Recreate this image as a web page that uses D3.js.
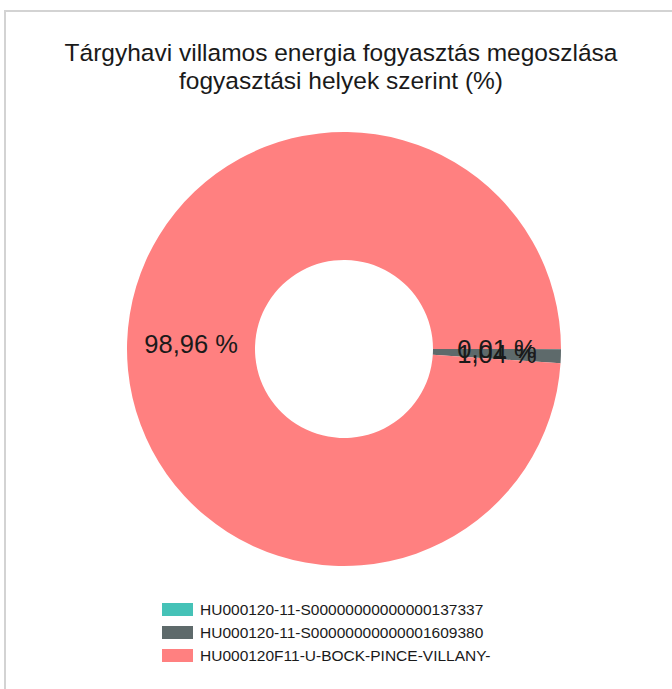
<!DOCTYPE html>
<html>
<head>
<meta charset="utf-8">
<script src="https://cdn.jsdelivr.net/npm/d3@7"></script>
<style>
  body { margin: 0; background: #fff; }
  svg { display: block; font-family: Arial, "Liberation Sans", sans-serif; }
</style>
</head>
<body>
<div id="chart"></div>
<script>
var titleLines = [
  'Tárgyhavi villamos energia fogyasztás megoszlása',
  'fogyasztási helyek szerint (%)'
];
var categories = [
  'HU000120-11-S00000000000000137337',
  'HU000120-11-S00000000000001609380',
  'HU000120F11-U-BOCK-PINCE-VILLANY-'
];
var values = [0.01, 1.04, 98.96];
var colors = ['#45c2b7', '#5e6a6b', '#ff8080'];

var width = 672, height = 689;
var cx = 344, cy = 349, outerR = 217, innerR = 89;

var svg = d3.select('#chart').append('svg')
  .attr('width', width)
  .attr('height', height);

// frame around the chart area
svg.append('rect')
  .attr('x', 5)
  .attr('y', 11)
  .attr('width', 700)
  .attr('height', 700)
  .attr('fill', 'none')
  .attr('stroke', '#d3d3d3')
  .attr('stroke-width', 2);

svg.selectAll('text.title')
  .data(titleLines)
  .enter()
  .append('text')
  .attr('class', 'title')
  .attr('x', 341)
  .attr('y', function(d, i) { return 61 + i * 28; })
  .attr('text-anchor', 'middle')
  .attr('font-size', 24.5)
  .attr('fill', '#1a1a1a')
  .text(function(d) { return d; });

var color = d3.scaleOrdinal()
  .domain(categories)
  .range(colors);

var pie = d3.pie()
  .sort(null)
  .startAngle(Math.PI / 2)
  .endAngle(Math.PI / 2 + 2 * Math.PI)
  .value(function(d) { return d.value; });

var data = categories.map(function(c, i) {
  return { category: c, value: values[i] };
});

var arc = d3.arc()
  .innerRadius(innerR)
  .outerRadius(outerR);

var labelArc = d3.arc()
  .innerRadius((innerR + outerR) / 2)
  .outerRadius((innerR + outerR) / 2);

var g = svg.append('g')
  .attr('transform', 'translate(' + cx + ',' + cy + ')');

var arcs = pie(data);

g.selectAll('path')
  .data(arcs)
  .enter()
  .append('path')
  .attr('d', arc)
  .attr('fill', function(d) { return color(d.data.category); });

var fmt = function(v) { return v.toFixed(2).replace('.', ',') + ' %'; };

g.selectAll('text.lbl')
  .data(arcs)
  .enter()
  .append('text')
  .attr('class', 'lbl')
  .attr('transform', function(d) { return 'translate(' + labelArc.centroid(d) + ')'; })
  .attr('text-anchor', 'middle')
  .attr('dy', '0.35em')
  .attr('font-size', 25.5)
  .attr('fill', '#1a1a1a')
  .text(function(d) { return fmt(d.data.value); });

// legend
var legend = svg.append('g')
  .attr('transform', 'translate(162,603)');

var rows = legend.selectAll('g')
  .data(categories)
  .enter()
  .append('g')
  .attr('transform', function(d, i) { return 'translate(0,' + i * 23 + ')'; });

rows.append('rect')
  .attr('width', 31)
  .attr('height', 13)
  .attr('fill', function(d) { return color(d); });

rows.append('text')
  .attr('x', 38)
  .attr('y', 6.5)
  .attr('dy', '0.35em')
  .attr('font-size', 15.5)
  .attr('fill', '#1a1a1a')
  .text(function(d) { return d; });
</script>
</body>
</html>
